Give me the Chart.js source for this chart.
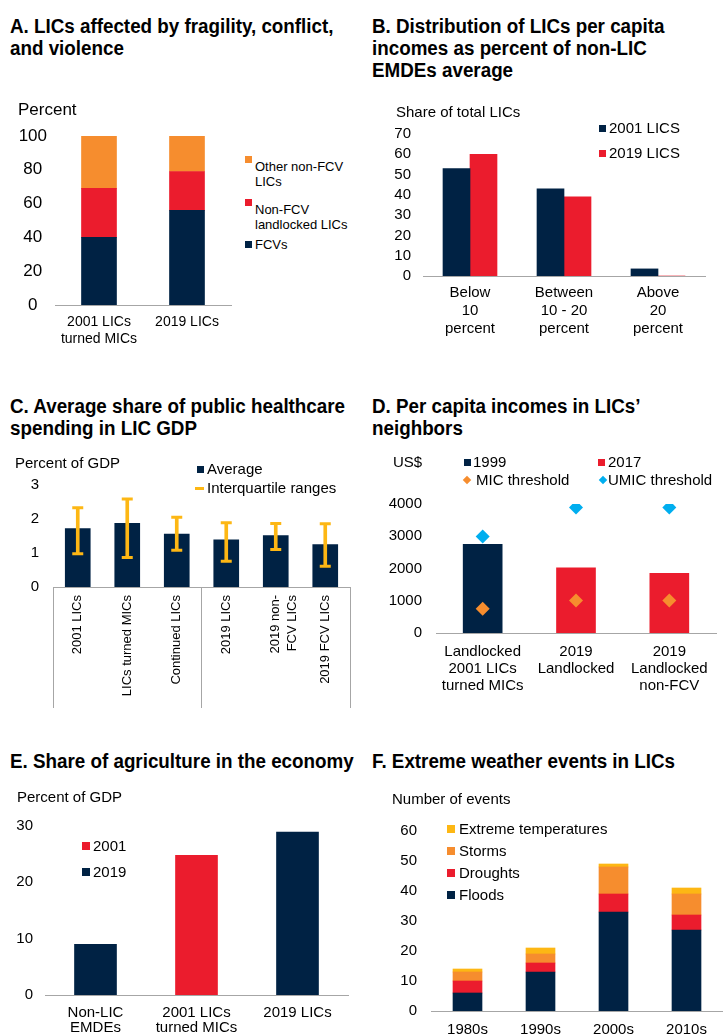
<!DOCTYPE html>
<html>
<head>
<meta charset="utf-8">
<script src="https://cdn.jsdelivr.net/npm/chart.js@4.4.1/dist/chart.umd.min.js"></script>
<style>
  body { margin: 0; background: #fff; width: 723px; height: 1036px; position: relative; overflow: hidden;
         font-family: "Liberation Sans", Arial, sans-serif; color: #000; }
  canvas { position: absolute; }
  .title { position: absolute; font-family: "Liberation Sans", Arial, sans-serif; font-weight: bold;
           font-size: 20px; line-height: 22px; white-space: nowrap;
           transform: scaleX(0.94); transform-origin: 0 0; }
  .txt { position: absolute; white-space: nowrap; }
  .sw { position: absolute; }
</style>
</head>
<body>

<div class="title" style="left:10px;top:15px">A. LICs affected by fragility, conflict,<br>and violence</div>
<div class="title" style="left:372px;top:15px">B. Distribution of LICs per capita<br>incomes as percent of non-LIC<br>EMDEs average</div>
<div class="title" style="left:10px;top:395px">C. Average share of public healthcare<br>spending in LIC GDP</div>
<div class="title" style="left:372px;top:395px">D. Per capita incomes in LICs’<br>neighbors</div>
<div class="title" style="left:10px;top:750px">E. Share of agriculture in the economy</div>
<div class="title" style="left:372px;top:750px">F. Extreme weather events in LICs</div>

<canvas id="chartA" width="235" height="243" style="left:0;top:112px"></canvas>
<canvas id="chartB" width="363" height="236" style="left:360px;top:110px"></canvas>
<canvas id="chartC" width="360" height="251" style="left:0;top:461px"></canvas>
<canvas id="chartD" width="363" height="223" style="left:360px;top:480px"></canvas>
<canvas id="chartE" width="350" height="234" style="left:0;top:802px"></canvas>
<canvas id="chartF" width="363" height="229" style="left:360px;top:807px"></canvas>

<script>
// Panel A: composition of LIC groups, percent
const groupsA = [['2001 LICs', 'turned MICs'], '2019 LICs'];
const fcvShare = [40, 56];
const landlockedShare = [29, 23];
const otherShare = [31, 21];

// Panel B: share of total LICs by income band
const incomeBands = [['Below', '10', 'percent'], ['Between', '10 - 20', 'percent'], ['Above', '20', 'percent']];
const lics2001 = [53, 43, 3.5];
const lics2019 = [60, 39, 0];

// Panel C: public health spending, percent of GDP
const healthGroups = ['2001 LICs', 'LICs turned MICs', 'Continued LICs', '2019 LICs', ['2019 non-', 'FCV LICs'], '2019 FCV LICs'];
const healthAvg = [1.72, 1.87, 1.56, 1.39, 1.51, 1.25];
const healthQ1 = [0.98, 0.87, 1.08, 0.76, 1.10, 0.61];
const healthQ3 = [2.33, 2.59, 2.05, 1.89, 1.87, 1.86];

// Panel D: neighbors' per capita income, US$
const neighborGroups = [['Landlocked', '2001 LICs', 'turned MICs'], ['2019', 'Landlocked'], ['2019', 'Landlocked', 'non-FCV']];
const income1999 = [2750, null, null];
const income2017 = [null, 2020, 1850];
const micThreshold = [755, 1005, 1005];
const umicThreshold = [2995, 3895, 3895];

// Panel E: agriculture, percent of GDP
const agriGroups = [['Non-LIC', 'EMDEs'], ['2001 LICs', 'turned MICs'], '2019 LICs'];
const agri2001 = [null, 24.8, null];
const agri2019 = [9, null, 28.9];

// Panel F: extreme weather events by decade
const decades = ['1980s', '1990s', '2000s', '2010s'];
const floods = [6, 13, 33, 27];
const droughts = [4, 3, 6, 5];
const storms = [3, 3, 9, 7];
const extremeTemps = [1, 2, 1, 2];

const NAVY = '#002244', RED = '#EB1C2D', ORANGE = '#F68D2E', GOLD = '#FDB714', CYAN = '#00AEEF';
const AXIS = '#A6A6A6';
const TOP_PAD = 24; // room for the half-height of the top tick label

Chart.defaults.font.family = '"Liberation Sans", Arial, sans-serif';
Chart.defaults.color = '#000';
Chart.defaults.animation = false;
Chart.defaults.responsive = false;
Chart.defaults.events = [];
Chart.defaults.plugins.legend.display = false;
Chart.defaults.plugins.tooltip.enabled = false;

// fixed-size axes so every plot area lands where it should
function axes(o) {
  return {
    x: {
      stacked: !!o.stacked,
      grid: { display: false, drawTicks: false },
      border: { color: AXIS, width: 1 },
      ticks: { autoSkip: false, maxRotation: 0, padding: o.xPad,
               font: { size: o.xSize || 15, lineHeight: o.xLine || 1.2 } },
      afterFit: s => { s.height = o.xHeight; }
    },
    y: {
      stacked: !!o.stacked,
      min: 0, max: o.max,
      grid: { display: false, drawTicks: false },
      border: { display: false },
      ticks: { stepSize: o.step, autoSkip: false, padding: o.yPad, crossAlign: o.yAlign || 'near',
               font: { size: o.ySize || 15 }, callback: v => String(v) },
      afterFit: s => { s.width = o.yWidth; }
    }
  };
}

function draw(id, data, scales, padRight) {
  return new Chart(document.getElementById(id), {
    type: 'bar',
    data: data,
    options: { devicePixelRatio: 1, layout: { padding: { top: TOP_PAD, right: padRight } }, scales: scales }
  });
}

function addText(x, yMid, text, size, lineH) {
  const d = document.createElement('div');
  d.className = 'txt';
  const lh = lineH || Math.round(size * 1.2);
  d.style.cssText = `left:${x}px;top:${yMid - lh / 2}px;font-size:${size}px;line-height:${lh}px`;
  d.innerHTML = text;
  document.body.appendChild(d);
}

function addSwatch(x, yMid, w, h, color, diamond) {
  const d = document.createElement('div');
  d.className = 'sw';
  d.style.cssText = `left:${x}px;top:${yMid - h / 2}px;width:${w}px;height:${h}px;background:${color}` +
    (diamond ? ';transform:rotate(45deg)' : '');
  document.body.appendChild(d);
}

// A
draw('chartA', {
  labels: groupsA,
  datasets: [
    { label: 'FCVs', data: fcvShare, backgroundColor: NAVY, barThickness: 35 },
    { label: 'Non-FCV landlocked LICs', data: landlockedShare, backgroundColor: RED, barThickness: 35 },
    { label: 'Other non-FCV LICs', data: otherShare, backgroundColor: ORANGE, barThickness: 35 }
  ]
}, axes({ stacked: true, max: 100, step: 20, yWidth: 55, yPad: 8, ySize: 17, yAlign: 'center',
          xHeight: 50, xPad: 9, xSize: 14 }), 4);

addText(18, 110, 'Percent', 17);
addSwatch(245, 159, 7, 7, ORANGE);
addText(255, 166.5, 'Other non-FCV<br>LICs', 13, 15);
addSwatch(245, 202, 7, 7, RED);
addText(255, 209.5, 'Non-FCV<br>landlocked LICs', 13, 15);
addSwatch(245, 244, 7, 7, NAVY);
addText(255, 244, 'FCVs', 13, 15);

// B
draw('chartB', {
  labels: incomeBands,
  datasets: [
    { label: '2001 LICS', data: lics2001, backgroundColor: NAVY, barThickness: 27 },
    { label: '2019 LICS', data: lics2019, backgroundColor: RED, barThickness: 27 }
  ]
}, axes({ max: 70, step: 10, yWidth: 63, yPad: 12, xHeight: 70, xPad: 8 }), 18);

addText(396, 112, 'Share of total LICs', 15);
addSwatch(599, 128, 7, 7, NAVY);
addText(609, 128, '2001 LICS', 15);
addSwatch(599, 153, 7, 7, RED);
addText(609, 153, '2019 LICS', 15);

// C: averages with interquartile whiskers
const scalesC = axes({ max: 3, step: 1, yWidth: 53, yPad: 14, xHeight: 125, xPad: -113, xSize: 13 });
scalesC.x.ticks.minRotation = 90;
scalesC.x.ticks.maxRotation = 90;
scalesC.x.ticks.font.lineHeight = 1.25;
scalesC.x.grid = {
  display: true, drawOnChartArea: false, drawTicks: true, tickLength: 121, offset: true,
  color: c => (c.index === undefined || c.index % 3 === 0) ? AXIS : 'rgba(0,0,0,0)'
};
draw('chartC', {
  labels: healthGroups,
  datasets: [
    { label: 'Average', data: healthAvg, backgroundColor: NAVY, barThickness: 25, grouped: false, order: 3 },
    { label: 'Interquartile ranges', data: healthQ1.map((q, i) => [q, healthQ3[i]]),
      backgroundColor: GOLD, barThickness: 3, grouped: false, order: 2 },
    { type: 'line', data: healthQ1, showLine: false, pointStyle: 'line', pointRadius: 5.5,
      borderColor: GOLD, pointBorderWidth: 3, order: 1 },
    { type: 'line', data: healthQ3, showLine: false, pointStyle: 'line', pointRadius: 5.5,
      borderColor: GOLD, pointBorderWidth: 3, order: 1 }
  ]
}, scalesC, 10);

addText(15, 463, 'Percent of GDP', 15);
addSwatch(197, 469, 7, 7, NAVY);
addText(207, 469, 'Average', 15);
addSwatch(195, 488, 9, 3, GOLD);
addText(207, 488, 'Interquartile ranges', 15);

// D
const diamond = { type: 'line', showLine: false, pointStyle: 'rectRot', pointRadius: 7, pointBorderWidth: 0 };
draw('chartD', {
  labels: neighborGroups,
  datasets: [
    { label: '1999', data: income1999, backgroundColor: NAVY, barThickness: 39, grouped: false, order: 3 },
    { label: '2017', data: income2017, backgroundColor: RED, barThickness: 39, grouped: false, order: 3 },
    Object.assign({ label: 'MIC threshold', data: micThreshold, backgroundColor: ORANGE, borderColor: ORANGE, order: 1 }, diamond),
    Object.assign({ label: 'UMIC threshold', data: umicThreshold, backgroundColor: CYAN, borderColor: CYAN, order: 1 }, diamond)
  ]
}, axes({ max: 4000, step: 1000, yWidth: 76, yPad: 14, xHeight: 70, xPad: 10, xLine: 1.15 }), 0);

addText(393, 462, 'US$', 15);
addSwatch(464, 462, 7, 7, NAVY);
addText(473, 462, '1999', 15);
addSwatch(598, 462, 7, 7, RED);
addText(608, 462, '2017', 15);
addSwatch(464, 480, 6, 6, ORANGE, true);
addText(476, 480, 'MIC threshold', 15);
addSwatch(600, 480, 6, 6, CYAN, true);
addText(608, 480, 'UMIC threshold', 15);

// E
draw('chartE', {
  labels: agriGroups,
  datasets: [
    { label: '2001', data: agri2001, backgroundColor: RED, barThickness: 42, grouped: false },
    { label: '2019', data: agri2019, backgroundColor: NAVY, barThickness: 42, grouped: false }
  ]
}, axes({ max: 30, step: 10, yWidth: 45, yPad: 12, xHeight: 41, xPad: 10, xLine: 1.0 }), 2);

addText(17, 797, 'Percent of GDP', 15);
addSwatch(82, 846, 8, 8, RED);
addText(93, 846, '2001', 15);
addSwatch(82, 872, 8, 8, NAVY);
addText(93, 872, '2019', 15);

// F
draw('chartF', {
  labels: decades,
  datasets: [
    { label: 'Floods', data: floods, backgroundColor: NAVY, barThickness: 29 },
    { label: 'Droughts', data: droughts, backgroundColor: RED, barThickness: 29 },
    { label: 'Storms', data: storms, backgroundColor: ORANGE, barThickness: 29 },
    { label: 'Extreme temperatures', data: extremeTemps, backgroundColor: GOLD, barThickness: 29 }
  ]
}, axes({ stacked: true, max: 60, step: 10, yWidth: 71, yPad: 14, xHeight: 25, xPad: 10 }), 0);

addText(392, 799, 'Number of events', 15);
addSwatch(447, 829, 8, 8, GOLD);
addText(459, 829, 'Extreme temperatures', 15);
addSwatch(447, 851, 8, 8, ORANGE);
addText(459, 851, 'Storms', 15);
addSwatch(447, 873, 8, 8, RED);
addText(459, 873, 'Droughts', 15);
addSwatch(447, 895, 8, 8, NAVY);
addText(459, 895, 'Floods', 15);
</script>
</body>
</html>
